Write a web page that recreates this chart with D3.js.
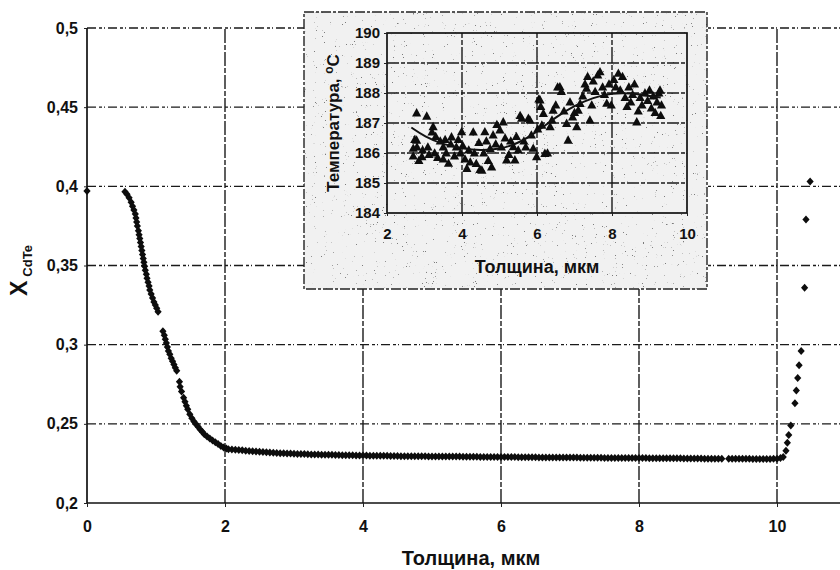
<!DOCTYPE html>
<html>
<head>
<meta charset="utf-8">
<script src="https://cdn.jsdelivr.net/npm/d3@7"></script>
<style>
  body { margin: 0; background: #fff; }
  text { font-family: "Liberation Sans", Arial, sans-serif; font-weight: bold; fill: #111; }
</style>
</head>
<body>
<div id="chart"></div>
<script>
// Main chart: X(CdTe) vs thickness, mkm
const xTicks = [0, 2, 4, 6, 8, 10];
const yTicks = [0.2, 0.25, 0.3, 0.35, 0.4, 0.45, 0.5];
const yTickLabels = ["0,2", "0,25", "0,3", "0,35", "0,4", "0,45", "0,5"];

// descending part near the substrate
const curvePoints = [
    [0, 0.397],
    [0.55, 0.3966], [0.58, 0.3950], [0.61, 0.3928], [0.64, 0.3900], [0.66, 0.3875],
    [0.68, 0.3850], [0.70, 0.3825], [0.71, 0.3800], [0.72, 0.3775], [0.73, 0.3750],
    [0.745, 0.3720], [0.755, 0.3695], [0.765, 0.3670], [0.775, 0.3645], [0.785, 0.3620],
    [0.795, 0.3595], [0.805, 0.3570], [0.815, 0.3545], [0.825, 0.3520], [0.835, 0.3495],
    [0.845, 0.3470], [0.86, 0.3445], [0.87, 0.3420], [0.885, 0.3395], [0.90, 0.3370],
    [0.91, 0.3345], [0.93, 0.3320], [0.95, 0.3295], [0.97, 0.3270], [0.99, 0.3250],
    [1.01, 0.3230], [1.03, 0.3208],
    [1.10, 0.3085], [1.12, 0.3060], [1.135, 0.3035], [1.15, 0.3010], [1.165, 0.2985],
    [1.18, 0.2960], [1.20, 0.2940], [1.22, 0.2915], [1.24, 0.2895], [1.26, 0.2875],
    [1.28, 0.2855], [1.30, 0.2835],
    [1.34, 0.2766], [1.35, 0.2735], [1.37, 0.2705], [1.40, 0.2665], [1.42, 0.2640],
    [1.44, 0.2615], [1.46, 0.2592], [1.49, 0.2560], [1.52, 0.2535], [1.55, 0.2515],
    [1.58, 0.2498], [1.61, 0.2482], [1.64, 0.2465], [1.67, 0.2450], [1.70, 0.2435],
    [1.74, 0.2420], [1.78, 0.2407], [1.82, 0.2395], [1.86, 0.2383], [1.90, 0.2372],
    [1.94, 0.2360], [1.98, 0.2350], [2.02, 0.2345]
];

// flat part of the layer
const plateauPoints = [
    [2.05, 0.2340], [2.10, 0.2338], [2.15, 0.2336], [2.20, 0.2334], [2.25, 0.2333], [2.30, 0.2330], [2.35, 0.2329], [2.40, 0.2327], [2.45, 0.2325], [2.50, 0.2323],
    [2.55, 0.2322], [2.60, 0.2320], [2.65, 0.2319], [2.70, 0.2318], [2.75, 0.2316], [2.80, 0.2315], [2.85, 0.2314], [2.90, 0.2313], [2.95, 0.2312], [3.00, 0.2311],
    [3.05, 0.2310], [3.10, 0.2309], [3.15, 0.2309], [3.20, 0.2308], [3.25, 0.2307], [3.30, 0.2307], [3.35, 0.2306], [3.40, 0.2305], [3.45, 0.2305], [3.50, 0.2304],
    [3.55, 0.2304], [3.60, 0.2303], [3.65, 0.2303], [3.70, 0.2302], [3.75, 0.2302], [3.80, 0.2301], [3.85, 0.2301], [3.90, 0.2300], [3.95, 0.2300], [4.00, 0.2300],
    [4.05, 0.2300], [4.10, 0.2299], [4.15, 0.2299], [4.20, 0.2299], [4.25, 0.2298], [4.30, 0.2298], [4.35, 0.2298], [4.40, 0.2297], [4.45, 0.2297], [4.50, 0.2297],
    [4.55, 0.2296], [4.60, 0.2296], [4.65, 0.2296], [4.70, 0.2296], [4.75, 0.2295], [4.80, 0.2295], [4.85, 0.2295], [4.90, 0.2295], [4.95, 0.2294], [5.00, 0.2294],
    [5.05, 0.2294], [5.10, 0.2294], [5.15, 0.2294], [5.20, 0.2293], [5.25, 0.2293], [5.30, 0.2293], [5.35, 0.2293], [5.40, 0.2293], [5.45, 0.2292], [5.50, 0.2292],
    [5.55, 0.2292], [5.60, 0.2292], [5.65, 0.2292], [5.70, 0.2291], [5.75, 0.2291], [5.80, 0.2291], [5.85, 0.2291], [5.90, 0.2291], [5.95, 0.2290], [6.00, 0.2290],
    [6.05, 0.2290], [6.10, 0.2290], [6.15, 0.2290], [6.20, 0.2290], [6.25, 0.2289], [6.30, 0.2289], [6.35, 0.2289], [6.40, 0.2289], [6.45, 0.2289], [6.50, 0.2289],
    [6.55, 0.2288], [6.60, 0.2288], [6.65, 0.2288], [6.70, 0.2288], [6.75, 0.2288], [6.80, 0.2288], [6.85, 0.2287], [6.90, 0.2287], [6.95, 0.2287], [7.00, 0.2287],
    [7.05, 0.2287], [7.10, 0.2287], [7.15, 0.2286], [7.20, 0.2286], [7.25, 0.2286], [7.30, 0.2286], [7.35, 0.2286], [7.40, 0.2286], [7.45, 0.2286], [7.50, 0.2285],
    [7.55, 0.2285], [7.60, 0.2285], [7.65, 0.2285], [7.70, 0.2285], [7.75, 0.2285], [7.80, 0.2285], [7.85, 0.2284], [7.90, 0.2284], [7.95, 0.2284], [8.00, 0.2284],
    [8.05, 0.2284], [8.10, 0.2284], [8.15, 0.2283], [8.20, 0.2283], [8.25, 0.2283], [8.30, 0.2283], [8.35, 0.2283], [8.40, 0.2282], [8.45, 0.2282], [8.50, 0.2282],
    [8.55, 0.2282], [8.60, 0.2282], [8.65, 0.2281], [8.70, 0.2281], [8.75, 0.2281], [8.80, 0.2281], [8.85, 0.2281], [8.90, 0.2281], [8.95, 0.2280], [9.00, 0.2280],
    [9.05, 0.2280], [9.10, 0.2280], [9.15, 0.2280], [9.20, 0.2280], [9.30, 0.2279], [9.35, 0.2279], [9.40, 0.2279], [9.45, 0.2279], [9.50, 0.2279],
    [9.55, 0.2279], [9.60, 0.2279], [9.65, 0.2278], [9.70, 0.2278], [9.75, 0.2278], [9.80, 0.2278], [9.85, 0.2278], [9.90, 0.2278], [9.95, 0.2279], [10.00, 0.2280]
];

// rise at the surface
const risePoints = [
    [10.05, 0.2285], [10.09, 0.2290], [10.13, 0.2330], [10.15, 0.2380], [10.17, 0.2430],
    [10.20, 0.2490], [10.26, 0.2630], [10.28, 0.2710], [10.30, 0.2790], [10.32, 0.2870],
    [10.35, 0.2960], [10.40, 0.3360], [10.42, 0.3790], [10.48, 0.4030]
];

// Inset: growth temperature vs thickness
const insetXTicks = [2, 4, 6, 8, 10];
const insetYTicks = [184, 185, 186, 187, 188, 189, 190];
const insetPoints = [
    [2.70, 186.16], [2.70, 185.90], [2.74, 186.45], [2.79, 187.34], [2.79, 186.43], [2.80, 186.20],
    [2.85, 185.75], [2.93, 185.88], [2.95, 186.10], [3.06, 187.23], [3.09, 186.20], [3.12, 185.95],
    [3.20, 186.70], [3.23, 186.88], [3.27, 186.00], [3.30, 186.55], [3.35, 185.85], [3.42, 186.40],
    [3.50, 186.20], [3.50, 185.80], [3.55, 186.45], [3.58, 186.00], [3.64, 185.66], [3.70, 186.30],
    [3.72, 186.54], [3.80, 185.90], [3.85, 186.20], [3.90, 186.45], [3.96, 186.00], [3.99, 186.71],
    [4.02, 186.25], [4.08, 185.80], [4.13, 185.49], [4.18, 186.10], [4.22, 185.70], [4.30, 186.70],
    [4.33, 186.00], [4.38, 185.65], [4.45, 186.35], [4.48, 185.45], [4.53, 185.43], [4.58, 186.00],
    [4.61, 186.71], [4.65, 186.40], [4.70, 185.75], [4.75, 186.15], [4.79, 185.54], [4.83, 186.60],
    [4.90, 186.30], [4.93, 186.95], [5.01, 186.77], [5.05, 186.20], [5.10, 187.04], [5.15, 186.50],
    [5.19, 185.77], [5.25, 185.95], [5.30, 186.40], [5.37, 186.21], [5.41, 185.77], [5.45, 186.55],
    [5.50, 186.10], [5.55, 187.25], [5.59, 187.16], [5.65, 186.40], [5.70, 186.20], [5.77, 187.16],
    [5.81, 187.10], [5.85, 186.60], [5.90, 186.16], [5.99, 185.88], [6.02, 186.80], [6.05, 187.80],
    [6.08, 187.77], [6.10, 187.55], [6.13, 186.93], [6.17, 187.32], [6.21, 185.99], [6.28, 186.00],
    [6.35, 186.88], [6.40, 187.10], [6.43, 187.43], [6.50, 187.60], [6.55, 188.20], [6.61, 188.21],
    [6.65, 188.05], [6.72, 187.40], [6.79, 186.99], [6.83, 186.43], [6.88, 187.70], [6.95, 187.20],
    [7.00, 187.35], [7.06, 186.88], [7.10, 187.43], [7.15, 187.65], [7.22, 187.90], [7.28, 188.30],
    [7.32, 188.16], [7.35, 188.55], [7.41, 187.10], [7.46, 187.60], [7.50, 188.40], [7.55, 188.05],
    [7.62, 188.60], [7.68, 188.71], [7.75, 188.20], [7.80, 187.95], [7.86, 187.66], [7.92, 188.30],
    [7.98, 187.60], [8.05, 188.45], [8.10, 188.20], [8.17, 188.66], [8.22, 188.10], [8.28, 188.55],
    [8.35, 187.85], [8.40, 187.55], [8.45, 188.20], [8.50, 187.70], [8.55, 187.95], [8.60, 188.30],
    [8.66, 187.04], [8.70, 187.40], [8.75, 187.85], [8.80, 187.60], [8.88, 188.00], [8.95, 187.75],
    [9.00, 188.10], [9.05, 187.50], [9.10, 187.90], [9.15, 187.35], [9.20, 187.70], [9.25, 188.00],
    [9.28, 188.10], [9.30, 187.25], [9.32, 187.60]
];
// trend line drawn through the inset points
const insetTrend = [
    [2.65, 186.85], [3.0, 186.55], [3.5, 186.28], [4.0, 186.15], [4.5, 186.08], [5.0, 186.12],
    [5.5, 186.32], [6.0, 186.70], [6.5, 187.20], [7.0, 187.58], [7.5, 187.85], [8.0, 188.0],
    [8.5, 188.0], [9.0, 187.9], [9.3, 187.85]
];

const width = 840, height = 570;
const labelFont = "Liberation Sans, Arial, sans-serif";

const svg = d3.select("#chart")
    .append("svg")
    .attr("width", width)
    .attr("height", height)
    .style("display", "block");

// speckle filter for the photocopied inset background
const defs = svg.append("defs");
const speck = defs.append("filter")
    .attr("id", "speckle")
    .attr("x", 0).attr("y", 0).attr("width", "100%").attr("height", "100%");
speck.append("feTurbulence")
    .attr("type", "fractalNoise")
    .attr("baseFrequency", 0.9)
    .attr("numOctaves", 2)
    .attr("seed", 7)
    .attr("result", "noise");
speck.append("feColorMatrix")
    .attr("in", "noise")
    .attr("type", "matrix")
    .attr("values", "0 0 0 0 0.2  0 0 0 0 0.2  0 0 0 0 0.2  14 0 0 0 -10.2");

svg.append("rect").attr("width", width).attr("height", height).attr("fill", "#fff");

const x = d3.scaleLinear().domain([0, 10]).range([87, 777]);
const y = d3.scaleLinear().domain([0.2, 0.5]).range([503, 28]);
const xMax = 11.2; // plot area runs past the right edge of the picture

// grid lines (scanned look -> broken dashes)
const grid = svg.append("g").attr("stroke", "#1a1a1a").attr("fill", "none");
grid.selectAll(".hgrid")
    .data(yTicks.slice(1))
    .enter()
    .append("line")
    .attr("x1", x(0)).attr("x2", x(xMax))
    .attr("y1", d => y(d)).attr("y2", d => y(d))
    .attr("stroke-width", 1.4)
    .attr("stroke-dasharray", "9,3,3,2,1,3");
grid.selectAll(".vgrid")
    .data(xTicks.slice(1))
    .enter()
    .append("line")
    .attr("x1", d => x(d)).attr("x2", d => x(d))
    .attr("y1", y(0.2)).attr("y2", y(0.5))
    .attr("stroke-width", 1.4)
    .attr("stroke-dasharray", "14,2,5,2");

// frame: left and bottom solid
svg.append("line")
    .attr("x1", x(0)).attr("x2", x(0)).attr("y1", y(0.2)).attr("y2", y(0.5))
    .attr("stroke", "#111").attr("stroke-width", 1.7);
svg.append("line")
    .attr("x1", x(0)).attr("x2", x(xMax)).attr("y1", y(0.2)).attr("y2", y(0.2))
    .attr("stroke", "#111").attr("stroke-width", 1.7);

// axes
const yAxis = d3.axisLeft(y)
    .tickValues(yTicks)
    .tickFormat((d, i) => yTickLabels[i])
    .tickSize(3)
    .tickPadding(6);
const gy = svg.append("g").attr("transform", `translate(${x(0)},0)`).call(yAxis);
gy.select(".domain").remove();
gy.selectAll("line").attr("stroke", "#222");
gy.selectAll("text").style("font-size", "16px").style("font-family", labelFont).style("font-weight", "bold").attr("fill", "#111");

const xAxis = d3.axisBottom(x)
    .tickValues(xTicks)
    .tickFormat(d => d)
    .tickSize(4)
    .tickPadding(14);
const gx = svg.append("g").attr("transform", `translate(0,${y(0.2)})`).call(xAxis);
gx.select(".domain").remove();
gx.selectAll("line").attr("stroke", "#222");
gx.selectAll("text").style("font-size", "16px").style("font-family", labelFont).style("font-weight", "bold").attr("fill", "#111");

// axis titles
svg.append("text")
    .attr("x", 471).attr("y", 565)
    .attr("text-anchor", "middle")
    .style("font-size", "20px")
    .text("Толщина, мкм");

const yTitle = svg.append("text")
    .attr("transform", "translate(27,296) rotate(-90)");
yTitle.append("tspan").style("font-size", "23px").text("X");
yTitle.append("tspan").attr("dy", 5).attr("dx", 4).style("font-size", "13px").text("CdTe");

// diamonds of the main series
const diamond = "M0,-4L3.6,0L0,4L-3.6,0Z";
const allMain = curvePoints.concat(plateauPoints, risePoints);
svg.append("g")
    .selectAll("path")
    .data(allMain)
    .enter()
    .append("path")
    .attr("d", diamond)
    .attr("transform", d => `translate(${x(d[0])},${y(d[1])})`)
    .attr("fill", "#0d0d0d");

// ---------- inset ----------
const ix = d3.scaleLinear().domain([2, 10]).range([387, 687]);
const iy = d3.scaleLinear().domain([184, 190]).range([213, 33]);

const inset = svg.append("g");

inset.append("rect")
    .attr("x", 304).attr("y", 12)
    .attr("width", 403).attr("height", 277)
    .attr("fill", "#f1f1f1");
inset.append("rect")
    .attr("x", 304).attr("y", 12)
    .attr("width", 403).attr("height", 277)
    .attr("filter", "url(#speckle)");
inset.append("rect")
    .attr("x", 304).attr("y", 12)
    .attr("width", 403).attr("height", 277)
    .attr("fill", "none")
    .attr("stroke", "#222")
    .attr("stroke-width", 1.4)
    .attr("stroke-dasharray", "10,2,3,2");

inset.selectAll(".ihgrid")
    .data(insetYTicks.slice(1, -1))
    .enter()
    .append("line")
    .attr("x1", ix(2)).attr("x2", ix(10))
    .attr("y1", d => iy(d)).attr("y2", d => iy(d))
    .attr("stroke", "#1a1a1a").attr("stroke-width", 1.4)
    .attr("stroke-dasharray", "12,2,4,2");
inset.selectAll(".ivgrid")
    .data(insetXTicks.slice(1, -1))
    .enter()
    .append("line")
    .attr("x1", d => ix(d)).attr("x2", d => ix(d))
    .attr("y1", iy(184)).attr("y2", iy(190))
    .attr("stroke", "#1a1a1a").attr("stroke-width", 1.4)
    .attr("stroke-dasharray", "16,2,5,2");

inset.append("rect")
    .attr("x", ix(2)).attr("y", iy(190))
    .attr("width", ix(10) - ix(2)).attr("height", iy(184) - iy(190))
    .attr("fill", "none")
    .attr("stroke", "#111")
    .attr("stroke-width", 1.7);

const iyAxis = d3.axisLeft(iy).tickValues(insetYTicks).tickFormat(d => d).tickSize(3).tickPadding(4);
const giy = inset.append("g").attr("transform", `translate(${ix(2)},0)`).call(iyAxis);
giy.select(".domain").remove();
giy.selectAll("line").attr("stroke", "#222");
giy.selectAll("text").style("font-size", "15px").style("font-family", labelFont).style("font-weight", "bold").attr("fill", "#111");

const ixAxis = d3.axisBottom(ix).tickValues(insetXTicks).tickFormat(d => d).tickSize(3).tickPadding(12);
const gix = inset.append("g").attr("transform", `translate(0,${iy(184)})`).call(ixAxis);
gix.select(".domain").remove();
gix.selectAll("line").attr("stroke", "#222");
gix.selectAll("text").style("font-size", "15px").style("font-family", labelFont).style("font-weight", "bold").attr("fill", "#111");

inset.append("text")
    .attr("x", 537).attr("y", 273)
    .attr("text-anchor", "middle")
    .style("font-size", "18px")
    .text("Толщина, мкм");

const iyTitle = inset.append("text")
    .attr("transform", "translate(339,123) rotate(-90)")
    .attr("text-anchor", "middle")
    .style("font-size", "17px");
iyTitle.append("tspan").text("Температура, ");
iyTitle.append("tspan").attr("dy", -6).style("font-size", "12px").text("o");
iyTitle.append("tspan").attr("dy", 6).text("C");

const triangle = "M0,-4.8L4.6,3.6L-4.6,3.6Z";
inset.append("g")
    .selectAll("path")
    .data(insetPoints)
    .enter()
    .append("path")
    .attr("d", triangle)
    .attr("transform", d => `translate(${ix(d[0])},${iy(d[1])})`)
    .attr("fill", "#0d0d0d");

const trendLine = d3.line()
    .x(d => ix(d[0]))
    .y(d => iy(d[1]))
    .curve(d3.curveBasis);
inset.append("path")
    .attr("d", trendLine(insetTrend))
    .attr("fill", "none")
    .attr("stroke", "#111")
    .attr("stroke-width", 2);
</script>
</body>
</html>
